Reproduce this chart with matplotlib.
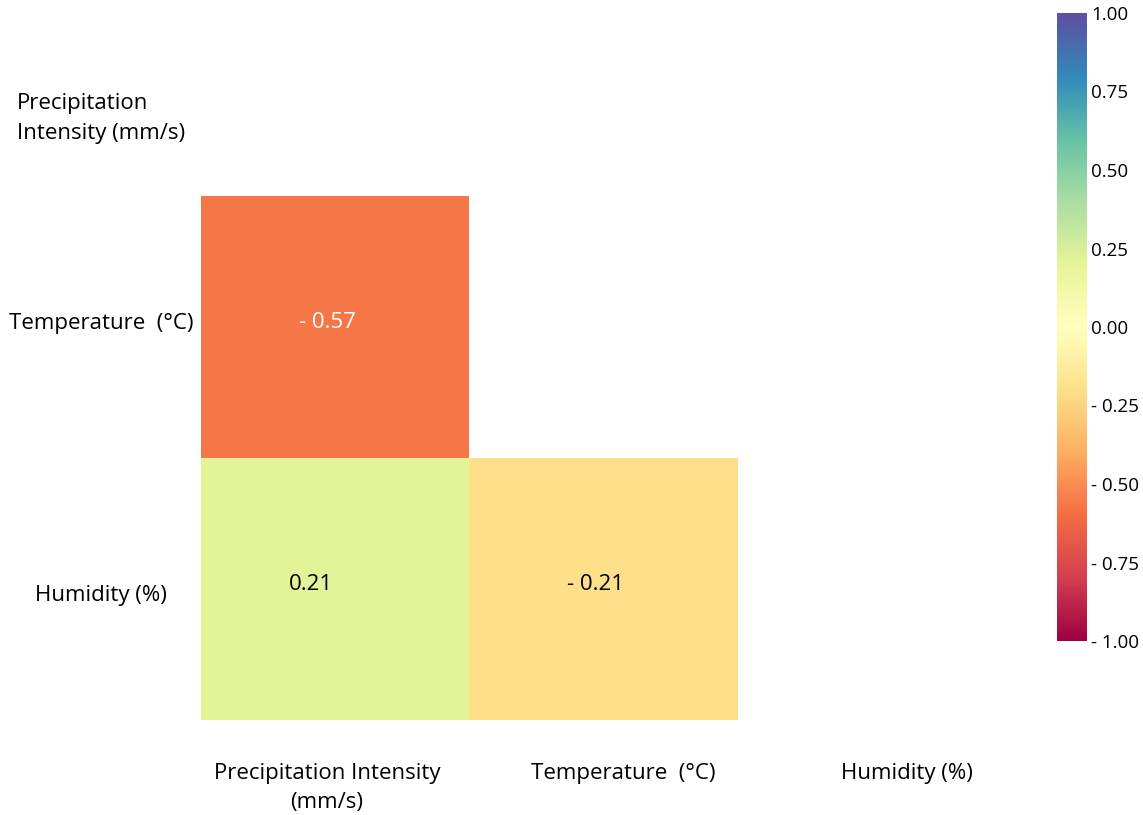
import numpy as np
import matplotlib.pyplot as plt
from matplotlib.ticker import FuncFormatter

plt.rcParams["font.family"] = ["Open Sans", "DejaVu Sans"]

# correlation matrix between the three weather variables
variables = ["Precipitation Intensity (mm/s)", "Temperature (°C)", "Humidity (%)"]
x_labels = ["Precipitation Intensity\n(mm/s)", "Temperature  (°C)", "Humidity (%)"]
y_labels = ["Precipitation\nIntensity (mm/s)", "Temperature  (°C)", "Humidity (%)"]
corr = np.array([
    [1.00, -0.57, 0.21],
    [-0.57, 1.00, -0.21],
    [0.21, -0.21, 1.00],
])


def fmt_signed(v, _pos=None):
    # minus sign followed by a space, e.g. "- 0.57"
    return f"- {abs(v):.2f}" if v < -1e-9 else f"{abs(v):.2f}"


# keep only the strict lower triangle
mask = np.triu(np.ones_like(corr, dtype=bool))
shown = np.ma.masked_array(corr, mask=mask)

W, H = 1143, 815
fig = plt.figure(figsize=(W / 100, H / 100), dpi=100)

# axes runs from the top of the canvas down to the bottom of the grid
ax = fig.add_axes([201 / W, 1 - 720 / H, 806 / W, 720 / H])
row_h = (720 - 197) / 2
col_w = 806 / 3
top = 2.5 - 720 / row_h

im = ax.imshow(shown, cmap="Spectral", vmin=-1, vmax=1, aspect="auto",
               extent=(-0.5, 2.5, 2.5, -0.5))
ax.set_xlim(-0.5, 2.5)
ax.set_ylim(2.5, top)

for i in range(3):
    for j in range(3):
        if mask[i, j]:
            continue
        v = corr[i, j]
        color = "white" if abs(v) > 0.5 else "black"
        dx = -0.03 if v < 0 else -0.09
        ax.text(j + dx, i - 0.02, fmt_signed(v), ha="center", va="center",
                fontsize=16, color=color)

for s in ax.spines.values():
    s.set_visible(False)

# label anchors in pixel offsets from the grid edges
x_pos = [(px - 201) / col_w - 0.5 for px in (327, 623, 907)]
y_pos = [2.5 - (720 - py) / row_h for py in (111, 321, 593)]

ax.set_xticks(x_pos)
ax.set_xticklabels(x_labels, fontsize=16, linespacing=1.5)
ax.tick_params(axis="x", length=0, pad=31)

ax.set_yticks(y_pos)
ax.set_yticklabels(y_labels, fontsize=16, ha="center", ma="left", linespacing=1.6)
ax.tick_params(axis="y", length=0, pad=72)

cax = fig.add_axes([1057 / W, 1 - 641 / H, 30 / W, (641 - 13) / H])
cb = fig.colorbar(im, cax=cax, ticks=np.linspace(-1, 1, 9))
cb.outline.set_visible(False)
cb.ax.yaxis.set_major_formatter(FuncFormatter(fmt_signed))
cb.ax.tick_params(length=0, labelsize=13.5, pad=3)

fig.savefig("out.png", dpi=100)
